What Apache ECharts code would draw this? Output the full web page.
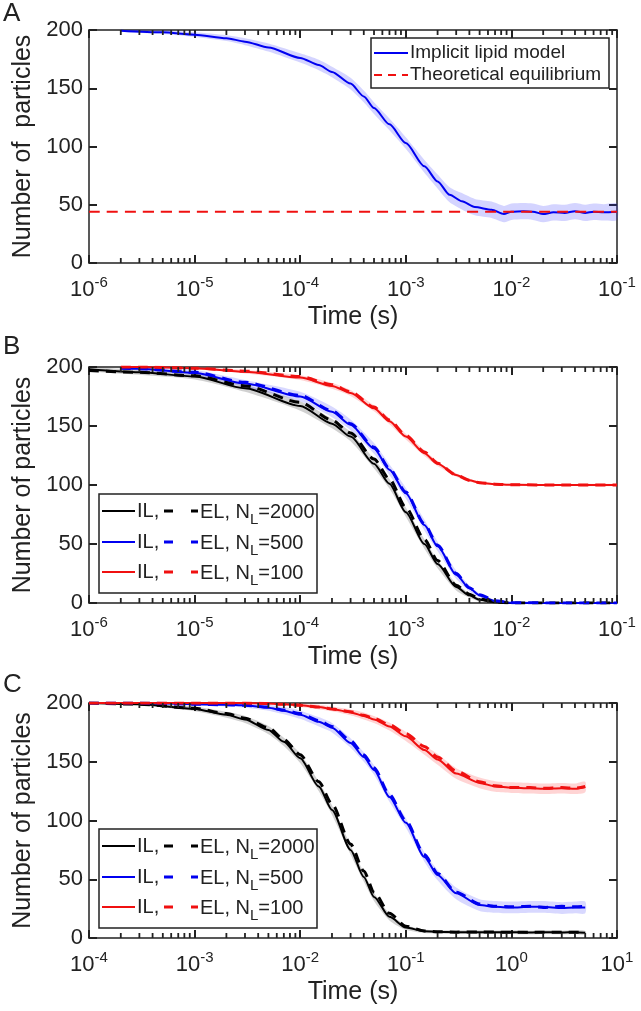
<!DOCTYPE html>
<html><head><meta charset="utf-8">
<script src="https://cdn.jsdelivr.net/npm/echarts@6/dist/echarts.min.js"></script>
<style>html,body{margin:0;padding:0;background:#fff}#c{width:641px;height:1011px}</style>
</head><body><div id="c"></div>
<script>
// ---------- Panel A ----------
const tA  = [2e-6, 5e-6, 1e-5, 2e-5, 3e-5, 5e-5, 1e-4, 1.5e-4, 2e-4, 3e-4, 4e-4, 5e-4, 7e-4, 1e-3, 1.5e-3, 2e-3, 2.6e-3, 3.4e-3, 4.5e-3, 6.5e-3, 8.5e-3, 1e-2, 1.3e-2, 1.6e-2, 2e-2, 2.5e-2, 3.2e-2, 4e-2, 5e-2, 6e-2, 7.5e-2, 1e-1];
const yA  = [199.4, 198, 196, 193, 190, 185, 176, 170, 164, 154, 143, 133, 119, 103, 83, 70, 58.6, 53, 48, 45.7, 42, 44, 44.5, 44, 42, 43.5, 43, 44.5, 43, 44, 43.5, 44];
const sA  = [1, 1.5, 2, 2.5, 3, 3.5, 4, 4.5, 4.5, 5, 5, 5, 5, 5, 5.5, 6, 6.5, 7, 7, 7, 7, 7, 7, 7, 7, 7, 7, 7, 7, 7, 7, 7];
const eqA = 44;

// ---------- Panel B ----------
const tBk   = [1e-6, 3e-6, 1e-5, 3e-5, 1e-4, 2e-4, 3e-4, 5e-4, 7e-4, 1e-3, 1.5e-3, 2e-3, 3e-3, 4e-3, 5e-3, 7e-3, 1e-2, 3e-2, 1e-1];
const bK_IL = [198, 195.5, 192, 182, 167, 152, 141, 118, 101, 77, 50, 33, 13.6, 6.5, 2.8, 0.6, 0, 0, 0];
const bK_EL = [197, 195.5, 192.5, 184, 170, 155, 144, 122, 105, 81, 54, 36, 15, 7.5, 3.5, 1, 0, 0, 0];
const bK_S  = [1.5, 2, 2.5, 3, 4, 4, 4, 4, 4, 4, 4, 3.5, 3, 2, 1.5, 0.8, 0.3, 0.2, 0.2];
const tB    = [2e-6, 3e-6, 1e-5, 3e-5, 1e-4, 2e-4, 3e-4, 5e-4, 7e-4, 1e-3, 1.5e-3, 2e-3, 3e-3, 4e-3, 5e-3, 7e-3, 1e-2, 3e-2, 1e-1];
const bB_IL = [199, 198.5, 195, 186, 175, 162, 151, 131, 113, 93, 66, 48, 24, 12.5, 6.5, 1.7, 0.2, 0, 0];
const bB_EL = [199, 198.5, 195.5, 187, 176, 163, 152, 132, 114, 94, 67, 49, 25, 13, 7, 2, 0.3, 0, 0];
const bB_S  = [1, 1.5, 2.5, 3, 4, 4.5, 4.5, 4.5, 4.5, 4.5, 4.5, 4, 3.5, 2.5, 1.5, 0.8, 0.3, 0.2, 0.2];
const bR_IL = [200, 200, 199, 196, 191, 184, 178, 165, 154, 141, 127, 118, 108.5, 104, 102, 100.7, 100.2, 100, 100];
const bR_EL = [200, 200, 199, 196.5, 192, 185, 179, 166, 155, 142, 128, 118.5, 108.5, 104, 102, 100.7, 100.2, 100, 100];
const bR_S  = [0.5, 0.5, 1, 1.5, 2, 2.5, 2.5, 2.5, 2.5, 2.5, 2.5, 2, 1.5, 1, 1, 0.8, 0.8, 0.8, 0.8];

// ---------- Panel C ----------
const tC    = [1e-4, 3e-4, 1e-3, 2e-3, 3e-3, 5e-3, 7e-3, 1e-2, 1.5e-2, 2e-2, 3e-2, 4e-2, 5e-2, 7e-2, 1e-1, 1.5e-1, 2e-1, 3e-1, 5e-1, 7e-1, 1, 1.5, 2, 3, 4, 5];
const cK_IL = [200, 199, 195, 190, 186, 177, 167, 153, 129, 109, 75, 52, 35, 18, 9, 5.7, 5.2, 5, 5, 4.8, 5, 4.6, 5, 4.7, 5, 4.5];
const cK_EL = [200, 199, 195.5, 191, 187, 179, 169, 156, 133, 114, 80, 57, 39, 21, 10, 6, 5.4, 5, 5.2, 5, 4.8, 5, 4.8, 5, 4.9, 4.7];
const cK_S  = [0.5, 1, 2, 2.5, 3, 3.5, 3.5, 4, 4, 4, 4, 4, 3.5, 3, 2, 1.5, 1.5, 1.5, 1.5, 1.5, 1.5, 1.5, 1.5, 1.5, 1.5, 1.5];
const cB_IL = [200, 200, 199, 198.5, 198, 196, 193.5, 190, 184, 179, 166, 154, 143, 120, 98, 69, 53.6, 38, 28, 26.5, 26, 26.5, 26.5, 25.5, 26, 26];
const cB_EL = [200, 200, 199, 198.5, 198, 196.5, 194, 191, 185, 180, 168, 156, 145, 122, 100, 71, 55, 39, 29, 27, 26.5, 27, 26, 27, 26.5, 27];
const cB_S  = [0.3, 0.5, 1, 1.5, 2, 2.5, 3, 3.5, 4, 4, 4, 4, 4, 4, 4, 4, 4.5, 5, 5, 5, 5, 5, 5, 5, 5, 5];
const cR_IL = [200, 200, 200, 200, 200, 199.5, 199, 198, 196.5, 195, 192, 189, 186, 180, 171.6, 160, 152, 140, 132, 129, 128, 127.5, 127, 127.5, 127, 128.5];
const cR_EL = [200, 200, 200, 200, 200, 199.5, 199, 198, 196.5, 195, 192.5, 189.5, 187, 181.5, 174, 163, 154, 142, 133, 129.5, 128, 128, 127.5, 128, 127.5, 129];
const cR_S  = [0.2, 0.2, 0.3, 0.5, 0.5, 1, 1, 1.5, 2, 2, 2.5, 3, 3, 3.5, 4, 4, 4.5, 4.5, 4.5, 4.5, 4.5, 4.5, 4.5, 4.5, 4.5, 4.5];

// ---------- Axis ticks / texts ----------
const yTicks = [0, 50, 100, 150, 200];
const xRanges = [[1e-6, 1e-1], [1e-6, 1e-1], [1e-4, 1e1]];
const minorMult = [2, 3, 4, 5, 6, 7, 8, 9];
const yTitles = ['Number of  particles', 'Number of particles', 'Number of particles'];
const xTitle = 'Time (s)';
const panelLetters = ['A', 'B', 'C'];

// ---------- Layout ----------
const FONT = 'Liberation Sans, Arial, Helvetica, sans-serif';
const AX = '#222222';
const BLUE = '#0000f0', RED = '#f01010', BLACK = '#000000';
const grids = [
  {left: 89, top: 30, width: 528, height: 233},
  {left: 89, top: 367, width: 528, height: 236},
  {left: 89, top: 703, width: 528, height: 235}
];

const xAxes = [], yAxes = [];
const axLine = () => ({show: true, onZero: false, lineStyle: {color: AX, width: 1.5}});
const axTick = () => ({show: true, inside: true, length: 8, lineStyle: {color: AX, width: 2}});
grids.forEach((g, p) => {
  const [lo, hi] = xRanges[p];
  xAxes.push({
    type: 'log', logBase: 10, gridIndex: p, position: 'bottom', min: lo, max: hi,
    axisLine: axLine(), axisTick: axTick(), splitLine: {show: false},
    axisLabel: {
      margin: 12, color: AX,
      formatter: v => '{b|10}{s|' + Math.round(Math.log10(v)) + '}',
      rich: {
        b: {fontSize: 22, fontFamily: FONT, color: AX, lineHeight: 26, verticalAlign: 'bottom'},
        s: {fontSize: 15, fontFamily: FONT, color: AX, lineHeight: 15, verticalAlign: 'top'}
      }
    },
    name: xTitle, nameLocation: 'middle', nameGap: 42,
    nameTextStyle: {fontSize: 25, fontFamily: FONT, color: AX}
  });
  xAxes.push({
    type: 'log', logBase: 10, gridIndex: p, position: 'top', min: lo, max: hi,
    axisLine: axLine(), axisTick: axTick(), axisLabel: {show: false}, splitLine: {show: false}
  });
  yAxes.push({
    type: 'value', gridIndex: p, position: 'left', min: 0, max: 200, interval: 50,
    axisLine: axLine(), axisTick: axTick(), splitLine: {show: false},
    axisLabel: {margin: 6, fontSize: 22, fontFamily: FONT, color: AX},
    name: yTitles[p], nameLocation: 'middle', nameGap: 46,
    nameTextStyle: {fontSize: 25, fontFamily: FONT, color: AX}
  });
  yAxes.push({
    type: 'value', gridIndex: p, position: 'right', min: 0, max: 200, interval: 50,
    axisLine: axLine(), axisTick: axTick(), axisLabel: {show: false}, splitLine: {show: false}
  });
});

function pairs(t, y) { return t.map((x, i) => [x, y[i]]); }
function band(p, t, y, s, color) {
  return {
    type: 'custom', xAxisIndex: 2 * p, yAxisIndex: 2 * p, silent: true, z: 1,
    data: [[t[0], y[0]]],
    renderItem: (params, api) => {
      const pts = [];
      for (let i = 0; i < t.length; i++) pts.push(api.coord([t[i], Math.min(200, y[i] + s[i])]));
      for (let i = t.length - 1; i >= 0; i--) pts.push(api.coord([t[i], Math.max(0, y[i] - s[i])]));
      return {type: 'polygon', shape: {points: pts, smooth: 0.25}, style: {fill: color}};
    }
  };
}
function line(p, t, y, color, width, dash, name) {
  return {
    type: 'line', name, xAxisIndex: 2 * p, yAxisIndex: 2 * p, data: pairs(t, y),
    showSymbol: false, smooth: 0.25, smoothMonotone: 'x', silent: true, z: dash ? 4 : 3,
    lineStyle: {color, width, type: dash || 'solid'}, animation: false
  };
}

const series = [
  band(0, tA, yA, sA, 'rgba(60,60,255,0.22)'),
  line(0, tA, yA, BLUE, 2, null, 'Implicit lipid model'),
  line(0, [xRanges[0][0], xRanges[0][1]], [eqA, eqA], RED, 2.2, [11, 7], 'Theoretical equilibrium'),

  band(1, tBk, bK_IL, bK_S, 'rgba(0,0,0,0.18)'),
  band(1, tB, bB_IL, bB_S, 'rgba(60,60,255,0.2)'),
  band(1, tB, bR_IL, bR_S, 'rgba(255,60,60,0.22)'),
  line(1, tBk, bK_IL, BLACK, 2, null),
  line(1, tB, bB_IL, BLUE, 2, null),
  line(1, tB, bR_IL, RED, 2, null),
  line(1, tBk, bK_EL, BLACK, 3, [10, 7]),
  line(1, tB, bB_EL, BLUE, 3, [10, 7]),
  line(1, tB, bR_EL, RED, 3, [10, 7]),

  band(2, tC, cK_IL, cK_S, 'rgba(0,0,0,0.18)'),
  band(2, tC, cB_IL, cB_S, 'rgba(60,60,255,0.2)'),
  band(2, tC, cR_IL, cR_S, 'rgba(255,60,60,0.22)'),
  line(2, tC, cK_IL, BLACK, 2, null),
  line(2, tC, cB_IL, BLUE, 2, null),
  line(2, tC, cR_IL, RED, 2, null),
  line(2, tC, cK_EL, BLACK, 3, [10, 7]),
  line(2, tC, cB_EL, BLUE, 3, [10, 7]),
  line(2, tC, cR_EL, RED, 3, [10, 7])
];

// ---------- Legends (drawn as graphic) ----------
const legNL = ['2000', '500', '100'];
const legColors = [BLACK, BLUE, RED];
const graphic = [];
panelLetters.forEach((L, p) => graphic.push({
  type: 'text', left: 3, top: [1, 334, 672][p], z: 10,
  style: {text: L, fontSize: 26, fontFamily: FONT, fill: AX}
}));
// A legend
graphic.push({type: 'rect', z: 10, shape: {x: 371, y: 38, width: 238, height: 50}, style: {fill: '#fff', stroke: AX, lineWidth: 1.5}});
graphic.push({type: 'line', z: 11, shape: {x1: 374, y1: 53, x2: 408, y2: 53}, style: {stroke: BLUE, lineWidth: 2}});
graphic.push({type: 'line', z: 11, shape: {x1: 374, y1: 75, x2: 408, y2: 75}, style: {stroke: RED, lineWidth: 2.2, lineDash: [8, 6]}});
graphic.push({type: 'text', z: 11, x: 410, y: 53, style: {text: 'Implicit lipid model', fontSize: 19, fontFamily: FONT, fill: AX, verticalAlign: 'middle'}});
graphic.push({type: 'text', z: 11, x: 410, y: 75, style: {text: 'Theoretical equilibrium', fontSize: 19, fontFamily: FONT, fill: AX, verticalAlign: 'middle'}});
// B & C legends
[[494, [511, 542, 572]], [829, [846, 877, 907]]].forEach(([top, rows]) => {
  graphic.push({type: 'rect', z: 10, shape: {x: 99, y: top, width: 218, height: 99}, style: {fill: '#fff', stroke: AX, lineWidth: 1.5}});
  rows.forEach((ry, i) => {
    graphic.push({type: 'line', z: 11, shape: {x1: 102, y1: ry, x2: 135, y2: ry}, style: {stroke: legColors[i], lineWidth: 2}});
    graphic.push({type: 'text', z: 11, x: 137, y: ry, style: {text: 'IL,', fontSize: 20, fontFamily: FONT, fill: AX, verticalAlign: 'middle'}});
    graphic.push({type: 'line', z: 11, shape: {x1: 164, y1: ry, x2: 198, y2: ry}, style: {stroke: legColors[i], lineWidth: 3.2, lineDash: [9, 18]}});
    graphic.push({type: 'text', z: 11, x: 200, y: ry + 2, style: {
      text: '{a|EL, N}{sub|L}{a|=' + legNL[i] + '}', verticalAlign: 'middle',
      rich: {
        a: {fontSize: 20, fontFamily: FONT, fill: AX, lineHeight: 22, verticalAlign: 'top'},
        sub: {fontSize: 15, fontFamily: FONT, fill: AX, lineHeight: 14, padding: [10, 0, 0, 0], verticalAlign: 'top'}
      }
    }});
  });
});

const chart = echarts.init(document.getElementById('c'), null, {renderer: 'canvas'});
chart.setOption({
  animation: false, backgroundColor: '#fff',
  grid: grids, xAxis: xAxes, yAxis: yAxes, series, graphic
});

// minor log ticks (inward, top and bottom), positioned through the chart's own axis scales
const tickEls = [];
grids.forEach((g, p) => {
  const [lo, hi] = xRanges[p];
  const finder = {xAxisIndex: 2 * p, yAxisIndex: 2 * p};
  for (let e = Math.round(Math.log10(lo)); e < Math.round(Math.log10(hi)); e++) {
    minorMult.forEach(k => {
      const v = k * Math.pow(10, e);
      const b = chart.convertToPixel(finder, [v, 0]);
      const t = chart.convertToPixel(finder, [v, 200]);
      if (!b || !t) return;
      tickEls.push({type: 'line', z: 12, silent: true, shape: {x1: b[0], y1: b[1], x2: b[0], y2: b[1] - 5}, style: {stroke: AX, lineWidth: 1.8}});
      tickEls.push({type: 'line', z: 12, silent: true, shape: {x1: t[0], y1: t[1], x2: t[0], y2: t[1] + 5}, style: {stroke: AX, lineWidth: 1.8}});
    });
  }
});
chart.setOption({graphic: graphic.concat(tickEls)});
</script></body></html>
